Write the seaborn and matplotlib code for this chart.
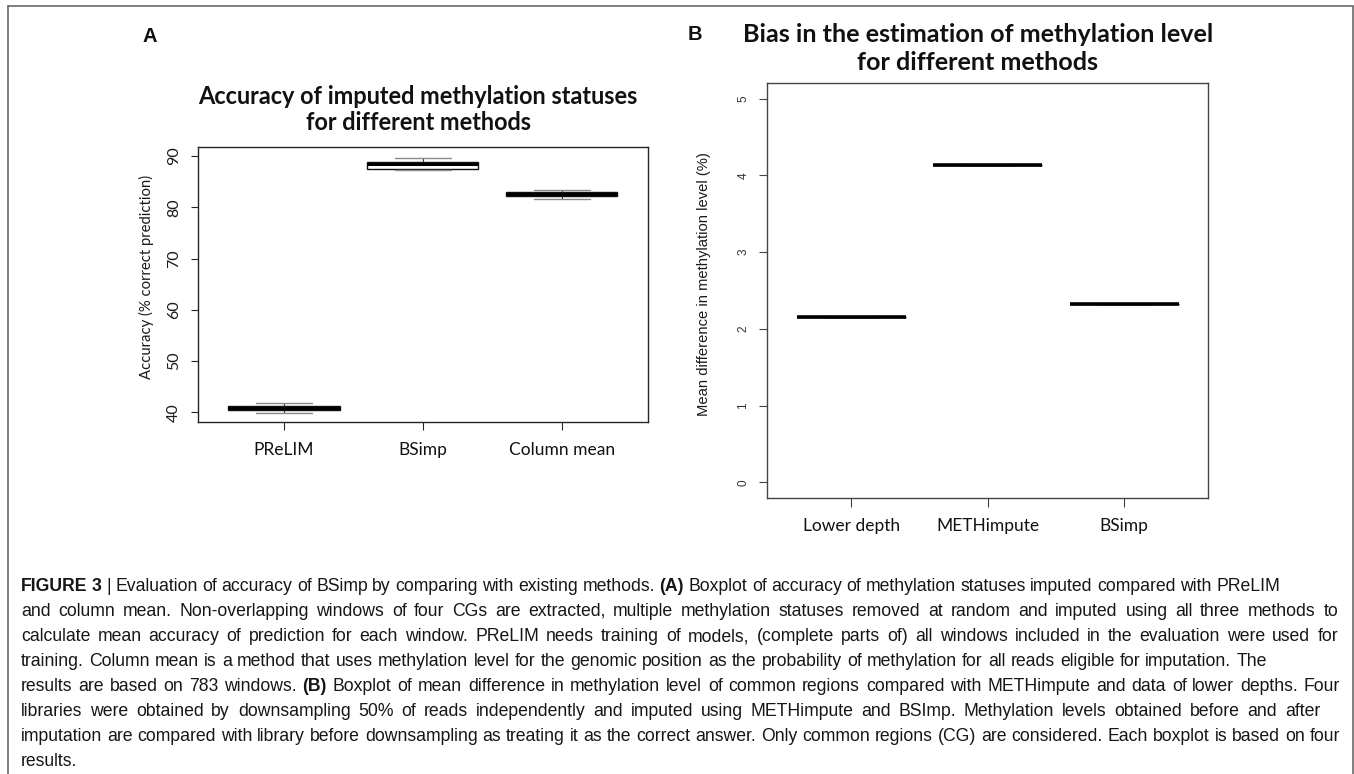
import numpy as np
import pandas as pd
import matplotlib
matplotlib.use("Agg")
import matplotlib.pyplot as plt
import seaborn as sns
from matplotlib.lines import Line2D

# ---------------- data ----------------
methods_a = ["PReLIM", "BSimp", "Column mean"]
# five-number summaries: min, q1, median, q3, max
prelim_stats = [39.95, 40.45, 40.8, 41.2, 41.75]
bsimp_stats = [87.3, 87.5, 88.4, 88.75, 89.6]
colmean_stats = [81.65, 82.2, 82.6, 82.95, 83.45]
yticks_a = [40, 50, 60, 70, 80, 90]

methods_b = ["Lower depth", "METHimpute", "BSimp"]
lower_depth_vals = [2.16, 2.16, 2.16, 2.16]
methimpute_vals = [4.13, 4.13, 4.13, 4.13]
bsimp_b_vals = [2.33, 2.33, 2.33, 2.33]
yticks_b = [0, 1, 2, 3, 4, 5]

title_a = ["Accuracy of imputed methylation statuses", "for different methods"]
title_b = ["Bias in the estimation of methylation level", "for different methods"]
ylabel_a = "Accuracy (% correct prediction)"
ylabel_b = "Mean difference in methylation level (%)"

caption_lines = [
    "**FIGURE 3** | Evaluation of accuracy of BSimp by comparing with existing methods. **(A)** Boxplot of accuracy of methylation statuses imputed compared with PReLIM",
    "and column mean. Non-overlapping windows of four CGs are extracted, multiple methylation statuses removed at random and imputed using all three methods to",
    "calculate mean accuracy of prediction for each window. PReLIM needs training of models, (complete parts of) all windows included in the evaluation were used for",
    "training. Column mean is a method that uses methylation level for the genomic position as the probability of methylation for all reads eligible for imputation. The",
    "results are based on 783 windows. **(B)** Boxplot of mean difference in methylation level of common regions compared with METHimpute and data of lower depths. Four",
    "libraries were obtained by downsampling 50% of reads independently and imputed using METHimpute and BSImp. Methylation levels obtained before and after",
    "imputation are compared with library before downsampling as treating it as the correct answer. Only common regions (CG) are considered. Each boxplot is based on four",
    "results.",
]

# ---------------- layout helpers ----------------
W, H = 1354, 774
sns.set_theme(style="white")
plt.rcParams["font.family"] = ["Lato", "DejaVu Sans"]

fig = plt.figure(figsize=(W / 100, H / 100), dpi=100)
fig.patch.set_facecolor("white")


def fx(x):
    return x / W


def fy(y):
    return 1 - y / H


def axes_rect(left, right, top, bottom):
    return [fx(left), fy(bottom), (right - left) / W, (bottom - top) / H]


renderer = fig.canvas.get_renderer()


def fit_width(t, target):
    w = t.get_window_extent(renderer).width
    t.set_fontsize(t.get_fontsize() * target / w)


df_a = pd.DataFrame({
    "method": np.repeat(methods_a, 5),
    "value": prelim_stats + bsimp_stats + colmean_stats,
})
df_b = pd.DataFrame({
    "method": np.repeat(methods_b, 4),
    "value": lower_depth_vals + methimpute_vals + bsimp_b_vals,
})

FRAME = "#262626"

# ---------------- panel A ----------------
axA = fig.add_axes(axes_rect(197.8, 648, 147.3, 422.3))
sns.boxplot(data=df_a, x="method", y="value", order=methods_a, ax=axA,
            width=0.8, whis=(0, 100), color="white", linecolor="#111111",
            linewidth=1.0, showfliers=False,
            medianprops=dict(color="#000000", linewidth=2.2),
            capprops=dict(color="#8a8a8a", linewidth=1.0),
            whiskerprops=dict(color="#333333", linewidth=0.8))
axA.set_xlim(-0.62, 2.62)
axA.set_ylim(38.05, 91.70)
axA.set_yticks(yticks_a)
axA.set_yticklabels([str(v) for v in yticks_a])
axA.set_xlabel("")
axA.set_ylabel(ylabel_a, fontsize=10.7, family=["Lato", "DejaVu Sans"], color="#1a1a1a")
axA.yaxis.label.set_va("center")
axA.yaxis.set_label_coords((146.4 - 197.8) / 450.2, (422.3 - 277) / 275.0)
axA.tick_params(axis="y", direction="out", length=5.2, width=0.8, color=FRAME,
                pad=7, labelsize=11.5, labelcolor="#1a1a1a", labelrotation=90, left=True)
axA.tick_params(axis="x", direction="out", length=5.8, width=0.8, color=FRAME,
                pad=8.5, labelsize=12.5, labelcolor="#111111", bottom=True)
for tk in axA.yaxis.get_major_ticks():
    tk.label1.set_va("center")
for s in axA.spines.values():
    s.set_visible(True)
    s.set_color(FRAME)
    s.set_linewidth(1.0)

# ---------------- panel B ----------------
axB = fig.add_axes(axes_rect(767.3, 1208, 83.3, 497.7))
sns.boxplot(data=df_b, x="method", y="value", order=methods_b, ax=axB,
            width=0.8, whis=(0, 100), color="white", linecolor="#000000",
            linewidth=1.0, showfliers=False,
            medianprops=dict(color="#000000", linewidth=2.6),
            capprops=dict(color="#000000", linewidth=1.0),
            whiskerprops=dict(color="#000000", linewidth=1.0))
axB.set_xlim(-0.615, 2.615)
axB.set_ylim(-0.2, 5.2)
axB.set_yticks(yticks_b)
axB.set_yticklabels([str(v) for v in yticks_b])
axB.set_xlabel("")
axB.set_ylabel(ylabel_b, fontsize=10.6, family=["Liberation Sans", "DejaVu Sans"],
               color="#1a1a1a")
axB.yaxis.label.set_va("center")
axB.yaxis.set_label_coords((703.6 - 767.3) / 440.7, (497.7 - 284) / 414.4)
axB.tick_params(axis="y", direction="out", length=6, width=0.8, color="#444444",
                pad=7, labelsize=8.5, labelcolor="#333333", labelrotation=90, left=True)
axB.tick_params(axis="x", direction="out", length=6.5, width=0.8, color="#444444",
                pad=8, labelsize=12.5, labelcolor="#111111", bottom=True)
for tk in axB.yaxis.get_major_ticks():
    tk.label1.set_va("center")
    tk.label1.set_family(["Liberation Sans", "DejaVu Sans"])
for s in axB.spines.values():
    s.set_visible(True)
    s.set_color("#444444")
    s.set_linewidth(1.0)

# ---------------- titles & panel letters ----------------
tA1 = fig.text(fx(418), fy(97), title_a[0], ha="center", va="center",
               fontsize=16, weight="bold", family=["Lato", "DejaVu Sans"], color="#111111")
fit_width(tA1, 443)
fig.text(fx(418), fy(123), title_a[1], ha="center", va="center",
         fontsize=tA1.get_fontsize(), weight="bold", family=["Lato", "DejaVu Sans"],
         color="#111111")
tB1 = fig.text(fx(977.7), fy(35), title_b[0], ha="center", va="center",
               fontsize=16, weight="bold", family=["Lato", "DejaVu Sans"], color="#111111")
fit_width(tB1, 471)
fig.text(fx(977.7), fy(63), title_b[1], ha="center", va="center",
         fontsize=tB1.get_fontsize(), weight="bold", family=["Lato", "DejaVu Sans"],
         color="#111111")

fig.text(fx(150), fy(37), "A", ha="center", va="center", fontsize=14.5, weight="bold",
         family=["Liberation Sans", "DejaVu Sans"], color="#111111")
fig.text(fx(695), fy(35), "B", ha="center", va="center", fontsize=14.5, weight="bold",
         family=["Liberation Sans", "DejaVu Sans"], color="#111111")

# ---------------- caption (word-justified lines) ----------------
cap_left = 21
cap_rights = [1280, 1338, 1338, 1267, 1340, 1320, 1340, None]
cap_ys = [585, 610, 635, 660, 685, 710, 735, 760]
CAP_FONT = ["Liberation Sans", "DejaVu Sans"]
CAP_SIZE = 12.7

for line, right, yy in zip(caption_lines, cap_rights, cap_ys):
    parts = line.split("**")
    words = []
    for i, seg in enumerate(parts):
        for w in seg.split():
            words.append((w, i % 2 == 1))
    texts = []
    for w, b in words:
        t = fig.text(0, fy(yy + 6.0), w, ha="left", va="baseline", fontsize=CAP_SIZE,
                     family=CAP_FONT, weight="bold" if b else "normal", color="#161616")
        texts.append(t)
    widths = [t.get_window_extent(renderer).width for t in texts]
    space = 4.6
    if right is not None and len(texts) > 1:
        gap = (right - cap_left - sum(widths)) / (len(texts) - 1)
        gap = max(gap, 2.5)
    else:
        gap = space
    x = cap_left
    for t, wd in zip(texts, widths):
        t.set_x(fx(x))
        x += wd + gap

# ---------------- outer frame ----------------
fc = "#6a6a6a"
fig.add_artist(Line2D([fx(8.3), fx(8.3)], [fy(6), fy(H + 2)], color=fc, lw=1.2))
fig.add_artist(Line2D([fx(8.3), fx(1353)], [fy(6), fy(6)], color=fc, lw=1.2))
fig.add_artist(Line2D([fx(1353), fx(1353)], [fy(6), fy(H + 2)], color=fc, lw=1.2))

fig.savefig("out.png", dpi=100, facecolor="white")
